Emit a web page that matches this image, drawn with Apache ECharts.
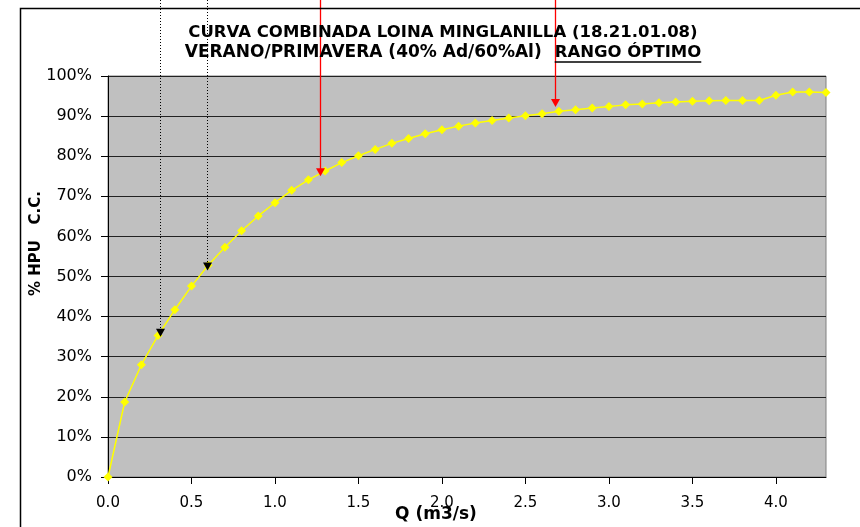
<!DOCTYPE html>
<html>
<head>
<meta charset="utf-8">
<script src="https://cdn.jsdelivr.net/npm/echarts@6/dist/echarts.min.js"></script>
<style>
html,body{margin:0;padding:0;background:#fff;}
#chart{width:860px;height:527px;}
</style>
</head>
<body>
<div id="chart"></div>
<script>
// ---- data ----
const titleLine1 = 'CURVA COMBINADA LOINA MINGLANILLA (18.21.01.08)';
const titleLine2a = 'VERANO/PRIMAVERA (40% Ad/60%Al)';
const titleLine2b = 'RANGO ÓPTIMO';
const xName = 'Q (m3/s)';
const yName = '% HPU   C.C.';
const qValues = [0.0,0.1,0.2,0.3,0.4,0.5,0.6,0.7,0.8,0.9,1.0,1.1,1.2,1.3,1.4,1.5,1.6,1.7,1.8,1.9,2.0,2.1,2.2,2.3,2.4,2.5,2.6,2.7,2.8,2.9,3.0,3.1,3.2,3.3,3.4,3.5,3.6,3.7,3.8,3.9,4.0,4.1,4.2,4.3];
const hpuValues = [0,18.7,28.0,35.3,41.7,47.6,52.8,57.3,61.4,65.1,68.4,71.5,74.1,76.3,78.4,80.1,81.7,83.2,84.4,85.6,86.6,87.5,88.3,88.9,89.5,90.1,90.6,91.2,91.6,92.0,92.4,92.8,93.0,93.3,93.5,93.7,93.8,93.9,93.9,93.9,95.2,96.0,96.0,95.9];
const xTickValues = [0,0.5,1.0,1.5,2.0,2.5,3.0,3.5,4.0];
const guideQ = [0.31, 0.59];      // dotted black arrows
const guideHPU = [35.0, 51.5];
const optimoQ = [1.27, 2.68];     // red arrows
const optimoHPU = [75.0, 92.3];

// ---- chart ----
const FONT = 'DejaVu Sans';
const chart = echarts.init(document.getElementById('chart'), null, {renderer: 'canvas'});

function arrowRenderer(color, dashed) {
  return function (params, api) {
    const p = api.coord([api.value(0), api.value(1)]);
    const x = Math.round(p[0]) + 0.5;
    const h = 8, w = 4.5;
    return {
      type: 'group',
      children: [
        {type: 'line', shape: {x1: x, y1: 0, x2: x, y2: p[1] - h + 1},
         style: {stroke: color, lineWidth: dashed ? 1 : 1.3, lineDash: dashed ? [1, 2] : null}},
        {type: 'polygon', shape: {points: [[x - w, p[1] - h], [x + w, p[1] - h], [x, p[1]]]},
         style: {fill: color}}
      ]
    };
  };
}

// measure for underline
const T1 = 16.5, T2A = 17, T2B = 16.5, GAP = 13;
const mc = document.createElement('canvas').getContext('2d');
mc.font = 'bold ' + T2A + 'px "' + FONT + '"';
const wA = mc.measureText(titleLine2a).width;
mc.font = 'bold ' + T2B + 'px "' + FONT + '"';
const wB = mc.measureText(titleLine2b).width;
const titleCenter = 443;
const ulX1 = titleCenter - (wA + GAP + wB) / 2 + wA + GAP;
const ulX2 = ulX1 + wB;

const option = {
  animation: false,
  backgroundColor: '#ffffff',
  title: {
    text: '{l1|' + titleLine1 + '}\n{a|' + titleLine2a + '}{b|' + titleLine2b + '}',
    left: titleCenter,
    textAlign: 'center',
    top: 23,
    padding: 0,
    textStyle: {
      fontFamily: FONT, fontWeight: 'bold', fontSize: T1, color: '#000', lineHeight: 20,
      rich: {
        l1: {fontFamily: FONT, fontWeight: 'bold', fontSize: T1, color: '#000', lineHeight: 20},
        a: {fontFamily: FONT, fontWeight: 'bold', fontSize: T2A, color: '#000', lineHeight: 20},
        b: {fontFamily: FONT, fontWeight: 'bold', fontSize: T2B, color: '#000', lineHeight: 20, padding: [0, 0, 0, GAP]}
      }
    }
  },
  grid: {
    left: 108, right: 34, top: 76, bottom: 50,
    containLabel: false, outerBoundsMode: 'none',
    show: true, backgroundColor: '#C0C0C0', borderColor: '#808080', borderWidth: 1
  },
  xAxis: {
    type: 'value', min: 0, max: 4.3,
    name: xName, nameLocation: 'middle', nameGap: 29, nameMoveOverlap: false,
    nameTextStyle: {fontFamily: FONT, fontWeight: 'bold', fontSize: 17, color: '#000', padding: [0, 62, 0, 0]},
    axisLine: {show: true, onZero: false, lineStyle: {color: '#000', width: 1}},
    axisTick: {show: true, length: 7, customValues: xTickValues, lineStyle: {color: '#000'}},
    axisLabel: {customValues: xTickValues, margin: 19, fontFamily: FONT, fontSize: 15, color: '#000',
      formatter: v => v.toFixed(1)},
    splitLine: {show: false}
  },
  yAxis: {
    type: 'value', min: 0, max: 100, interval: 10,
    name: yName, nameLocation: 'middle', nameGap: 64, nameMoveOverlap: false,
    nameTextStyle: {fontFamily: FONT, fontWeight: 'bold', fontSize: 15, color: '#000', padding: [0, 0, 0, 66]},
    axisLine: {show: true, lineStyle: {color: '#000', width: 1}},
    axisTick: {show: true, length: 7, lineStyle: {color: '#000'}},
    axisLabel: {margin: 16, fontFamily: FONT, fontSize: 16, color: '#000', formatter: '{value}%'},
    splitLine: {show: true, lineStyle: {color: '#222', width: 1}}
  },
  series: [
    {
      type: 'line',
      data: qValues.map((q, i) => [q, hpuValues[i]]),
      symbol: 'diamond', symbolSize: 9,
      clip: false,
      itemStyle: {color: '#FFFF00'},
      lineStyle: {color: '#FFFF00', width: 1.5},
      z: 3
    },
    {
      type: 'custom', clip: false, z: 5,
      data: guideQ.map((q, i) => [q, guideHPU[i]]),
      renderItem: arrowRenderer('#000000', true)
    },
    {
      type: 'custom', clip: false, z: 5,
      data: optimoQ.map((q, i) => [q, optimoHPU[i]]),
      renderItem: arrowRenderer('#FF0000', false)
    }
  ],
  graphic: [
    {type: 'polyline', silent: true, z: 10,
     shape: {points: [[20.5, 527], [20.5, 8.5], [860, 8.5]]},
     style: {stroke: '#000', lineWidth: 1.5, fill: null}},
    {type: 'line', silent: true, z: 10,
     shape: {x1: ulX1, y1: 62, x2: ulX2, y2: 62},
     style: {stroke: '#000', lineWidth: 1.5}}
  ]
};
chart.setOption(option);
</script>
</body>
</html>
